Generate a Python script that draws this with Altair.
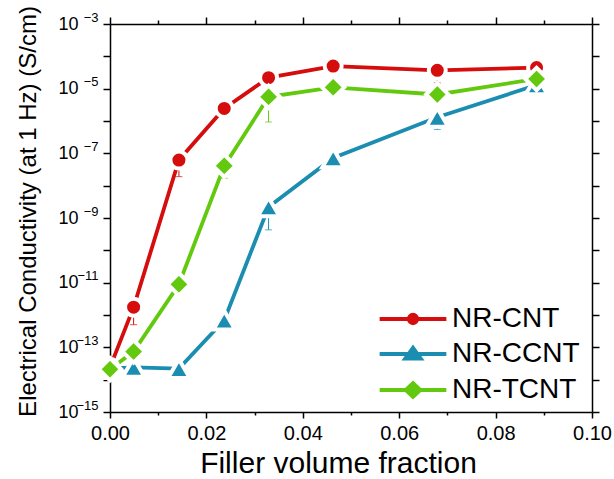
import altair as alt
import pandas as pd

# ---------------- data ----------------
fraction = [0.0, 0.0049, 0.0143, 0.0237, 0.0329, 0.0463, 0.0679, 0.0885]
series_names = ["NR-CNT", "NR-CCNT", "NR-TCNT"]
series_colors = ["#d50d0d", "#1b8db0", "#63c90e"]

cnt = [2.4e-14, 1.74e-12, 6.2e-8, 2.45e-6, 2.19e-5, 5.0e-5, 3.7e-5, 4.5e-5]
ccnt = [2.2e-14, 2.4e-14, 2.2e-14, 6.9e-13, 2.2e-9, 7.2e-8, 1.3e-6, 1.3e-5]
tcnt = [2.1e-14, 7.4e-14, 8.9e-12, 4.1e-8, 5.6e-6, 1.1e-5, 6.6e-6, 2.0e-5]

# lower end of the (one-sided) error bars, None where no bar is visible
cnt_low = [None, 5.0e-13, 1.9e-8, None, 1.1e-5, None, 1.5e-5, None]
ccnt_low = [None, 1.3e-14, 1.15e-14, 3.5e-13, 4.3e-10, 3.4e-8, 5.5e-7, 7.4e-6]
tcnt_low = [None, None, None, 1.7e-8, 9.3e-7, None, None, None]

x_major = [0.0, 0.02, 0.04, 0.06, 0.08, 0.10]
x_minor = [0.01, 0.03, 0.05, 0.07, 0.09]
y_decades = [1e-15, 1e-14, 1e-13, 1e-12, 1e-11, 1e-10, 1e-9, 1e-8,
             1e-7, 1e-6, 1e-5, 1e-4, 1e-3]

# ---------------- table ----------------
rows = []
for name, vals, lows in zip(series_names, [cnt, ccnt, tcnt], [cnt_low, ccnt_low, tcnt_low]):
    for f, v, lo in zip(fraction, vals, lows):
        rows.append({"series": name, "x": f, "y": v, "low": lo})
df = pd.DataFrame(rows)
err = df.dropna(subset=["low"])

FONT = "Liberation Sans"
xs = alt.Scale(domain=[0, 0.1], nice=False, zero=False)
ys = alt.Scale(type="log", domain=[1e-15, 1e-3], nice=False)
cs = alt.Scale(domain=series_names, range=series_colors)

common_axis = dict(grid=False, domainColor="black", domainWidth=1.5,
                   tickColor="black", tickWidth=1.5, labelColor="black",
                   labelFont=FONT, titleFont=FONT, titleColor="black",
                   titleFontWeight="normal", labelFlush=False, labelOverlap=False)

odd = "(round(log(datum.value)/LN10) % 2 != 0)"

# ---------------- legend layer (first, so its legend settings win) ----------------
legend_paths = [
    "M-4.17,0H4.17M0.52,0A0.52,0.52,0,1,1,-0.52,0A0.52,0.52,0,1,1,0.52,0Z",
    "M-4.17,0H4.17M0,-0.75L0.95,0.55L-0.95,0.55Z",
    "M-4.17,0H4.17M0,-0.84L0.9,0L0,0.84L-0.9,0Z",
]
leg = alt.Legend(
    orient="none", legendX=289, legendY=281, title=None,
    labelFontSize=28, labelFont=FONT, labelColor="black",
    symbolSize=256, symbolStrokeWidth=4, labelOffset=25,
    rowPadding=7, padding=0, symbolOpacity=1, labelLimit=400,
    symbolStrokeColor=alt.ExprRef("scale('color', datum.value)"),
)

legend_layer = alt.Chart(df).transform_filter("datum.x < 0").mark_point(filled=True).encode(
    x=alt.X("x:Q", scale=xs, axis=None),
    y=alt.Y("y:Q", scale=ys, axis=None),
    color=alt.Color("series:N", scale=cs, legend=leg),
    shape=alt.Shape("series:N", scale=alt.Scale(domain=series_names, range=legend_paths), legend=leg),
)

# ---------------- data layers ----------------
lines = alt.Chart(df).mark_line(strokeWidth=3.8).encode(
    x=alt.X("x:Q", scale=xs, axis=alt.Axis(
        orient="bottom", values=x_major, format=".2f", tickSize=6,
        labelFontSize=20, labelPadding=5, title="Filler volume fraction",
        titleFontSize=30, titlePadding=5, titleX=228, **common_axis)),
    y=alt.Y("y:Q", scale=ys, axis=alt.Axis(
        orient="left", values=y_decades, tickSize=7,
        labelExpr=odd + " ? '10' : ''", labelFontSize=18, labelPadding=25,
        title="Electrical Conductivity (at 1 Hz) (S/cm)", titleFontSize=24,
        titlePadding=17, titleY=187, **common_axis)),
    color=alt.Color("series:N", scale=cs, legend=None),
)

err_rules = alt.Chart(err).mark_rule(strokeWidth=1).encode(
    x=alt.X("x:Q", scale=xs, axis=alt.Axis(
        orient="bottom", values=x_minor, tickSize=3, labels=False,
        domain=False, title=None, **common_axis)),
    y=alt.Y("y:Q", scale=ys, axis=alt.Axis(
        orient="left", values=y_decades, ticks=False, tickSize=0, domain=False,
        labelExpr=odd + " ? '\u2212' + abs(round(log(datum.value)/LN10)) : ''",
        labelFontSize=13, labelPadding=12, labelBaseline="bottom",
        title=None, **common_axis)),
    y2="low:Q",
    color=alt.Color("series:N", scale=cs, legend=None),
)

err_caps = alt.Chart(err).mark_tick(orient="horizontal", size=7, thickness=1).encode(
    x=alt.X("x:Q", scale=xs, axis=alt.Axis(
        orient="top", values=x_minor, tickSize=4, labels=False,
        title=None, **common_axis)),
    y=alt.Y("low:Q", scale=ys, axis=alt.Axis(
        orient="right", values=y_decades, tickSize=7, labels=False,
        title=None, **common_axis)),
    color=alt.Color("series:N", scale=cs, legend=None),
)

shapes = ["circle", "triangle-up", "diamond"]
sizes = [290, 470, 500]
point_layers = []
for i, (name, shp, sz) in enumerate(zip(series_names, shapes, sizes)):
    if i == 0:
        xax = alt.Axis(orient="top", values=x_major, tickSize=7, labels=False,
                       domain=False, title=None, **common_axis)
    else:
        xax = None
    point_layers.append(
        alt.Chart(df).transform_filter(alt.datum.series == name)
        .mark_point(filled=True, shape=shp, size=sz, stroke="white",
                    strokeWidth=4, opacity=1)
        .encode(
            x=alt.X("x:Q", scale=xs, axis=xax),
            y=alt.Y("y:Q", scale=ys, axis=None),
            color=alt.Color("series:N", scale=cs, legend=None),
        )
    )

chart = alt.layer(legend_layer, lines, err_rules, err_caps, *point_layers).resolve_axis(
    x="independent", y="independent"
).properties(
    width=482, height=388,
    autosize=alt.AutoSizeParams(type="none"),
    padding={"left": 110, "top": 24, "right": 22, "bottom": 67},
    background="white",
).configure_view(stroke=None).configure(font=FONT)

chart.save("out.html", embed_options={"renderer": "svg", "actions": False})
